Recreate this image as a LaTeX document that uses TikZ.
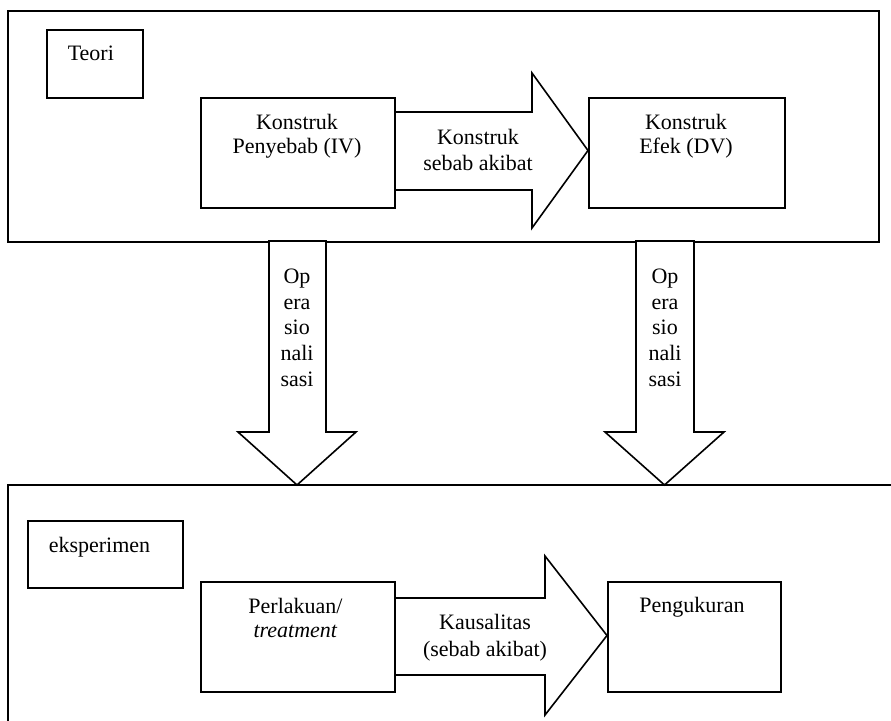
\documentclass[tikz,border=0pt]{standalone}
\usepackage{fontspec}
\setmainfont{Liberation Serif}
\begin{document}
\begin{tikzpicture}[x=1pt, y=-1pt, line width=1.6pt, line join=miter,
  frame/.style={draw, fill=white, inner sep=0pt, anchor=north west},
  blockarrow/.style={draw, fill=white, line join=miter},
  lbl/.style={font=\fontsize{22}{#1}\selectfont, inner sep=0pt, align=center},
  lbl/.default=25]
\useasboundingbox (0,0) rectangle (891,720);

% outer frame of the theory level
\node[frame, minimum width=871pt, minimum height=231pt] (teorilevel) at (7,10) {};

% outer frame of the experiment level (runs off the page)
\begin{scope}
  \clip (0,0) rectangle (891,720);
  \node[frame, minimum width=900pt, minimum height=260pt] (ekslevel) at (7,484) {};
\end{scope}

% cause -> effect arrows
\draw[blockarrow] (394,112) -- (532,112) -- (532,73) -- (588,150.5)
  -- (532,228) -- (532,190) -- (394,190) -- cycle;
\draw[blockarrow] (394,598) -- (545,598) -- (545,556) -- (607,635.5)
  -- (545,715) -- (545,675) -- (394,675) -- cycle;

% operationalisation arrows
\draw[blockarrow] (269,241) -- (269,432) -- (238,432) -- (297,485)
  -- (356,432) -- (326,432) -- (326,241) -- cycle;
\draw[blockarrow] (636,241) -- (636,432) -- (605,432) -- (664.5,485)
  -- (724,432) -- (694,432) -- (694,241) -- cycle;

% boxes
\node[frame, minimum width=96pt,  minimum height=68pt]  (teori) at (46,29) {};
\node[frame, minimum width=194pt, minimum height=110pt] (sebab) at (200,97) {};
\node[frame, minimum width=196pt, minimum height=110pt] (efek)  at (588,97) {};
\node[frame, minimum width=155pt, minimum height=67pt]  (eks)   at (27,520) {};
\node[frame, minimum width=194pt, minimum height=110pt] (perl)  at (200,581) {};
\node[frame, minimum width=173pt, minimum height=110pt] (ukur)  at (607,581) {};

% labels
\node[lbl, anchor=base west] (teoriT) at (67,60) {Teori};
\node[lbl=24, anchor=north] (sebabT) at (297,113) {Konstruk\\Penyebab (IV)};
\node[lbl=26, anchor=north] (kausT) at (478,128) {Konstruk\\sebab akibat};
\node[lbl=24, anchor=north] (efekT) at (686,113) {Konstruk\\Efek (DV)};
\node[lbl=25.7, anchor=north] (op1) at (297,268) {Op\\era\\sio\\nali\\sasi};
\node[lbl=25.7, anchor=north] (op2) at (665,268) {Op\\era\\sio\\nali\\sasi};
\node[lbl, anchor=base west] (eksT) at (48,552) {eksperimen};
\node[lbl=23.5, anchor=north] (perlT) at (295.5,597.5) {Perlakuan/\\\textit{treatment}};
\node[lbl=27, anchor=north] (kausalT) at (485,613) {Kausalitas\\(sebab akibat)};
\node[lbl, anchor=base] (ukurT) at (692,612) {Pengukuran};
\end{tikzpicture}
\end{document}
